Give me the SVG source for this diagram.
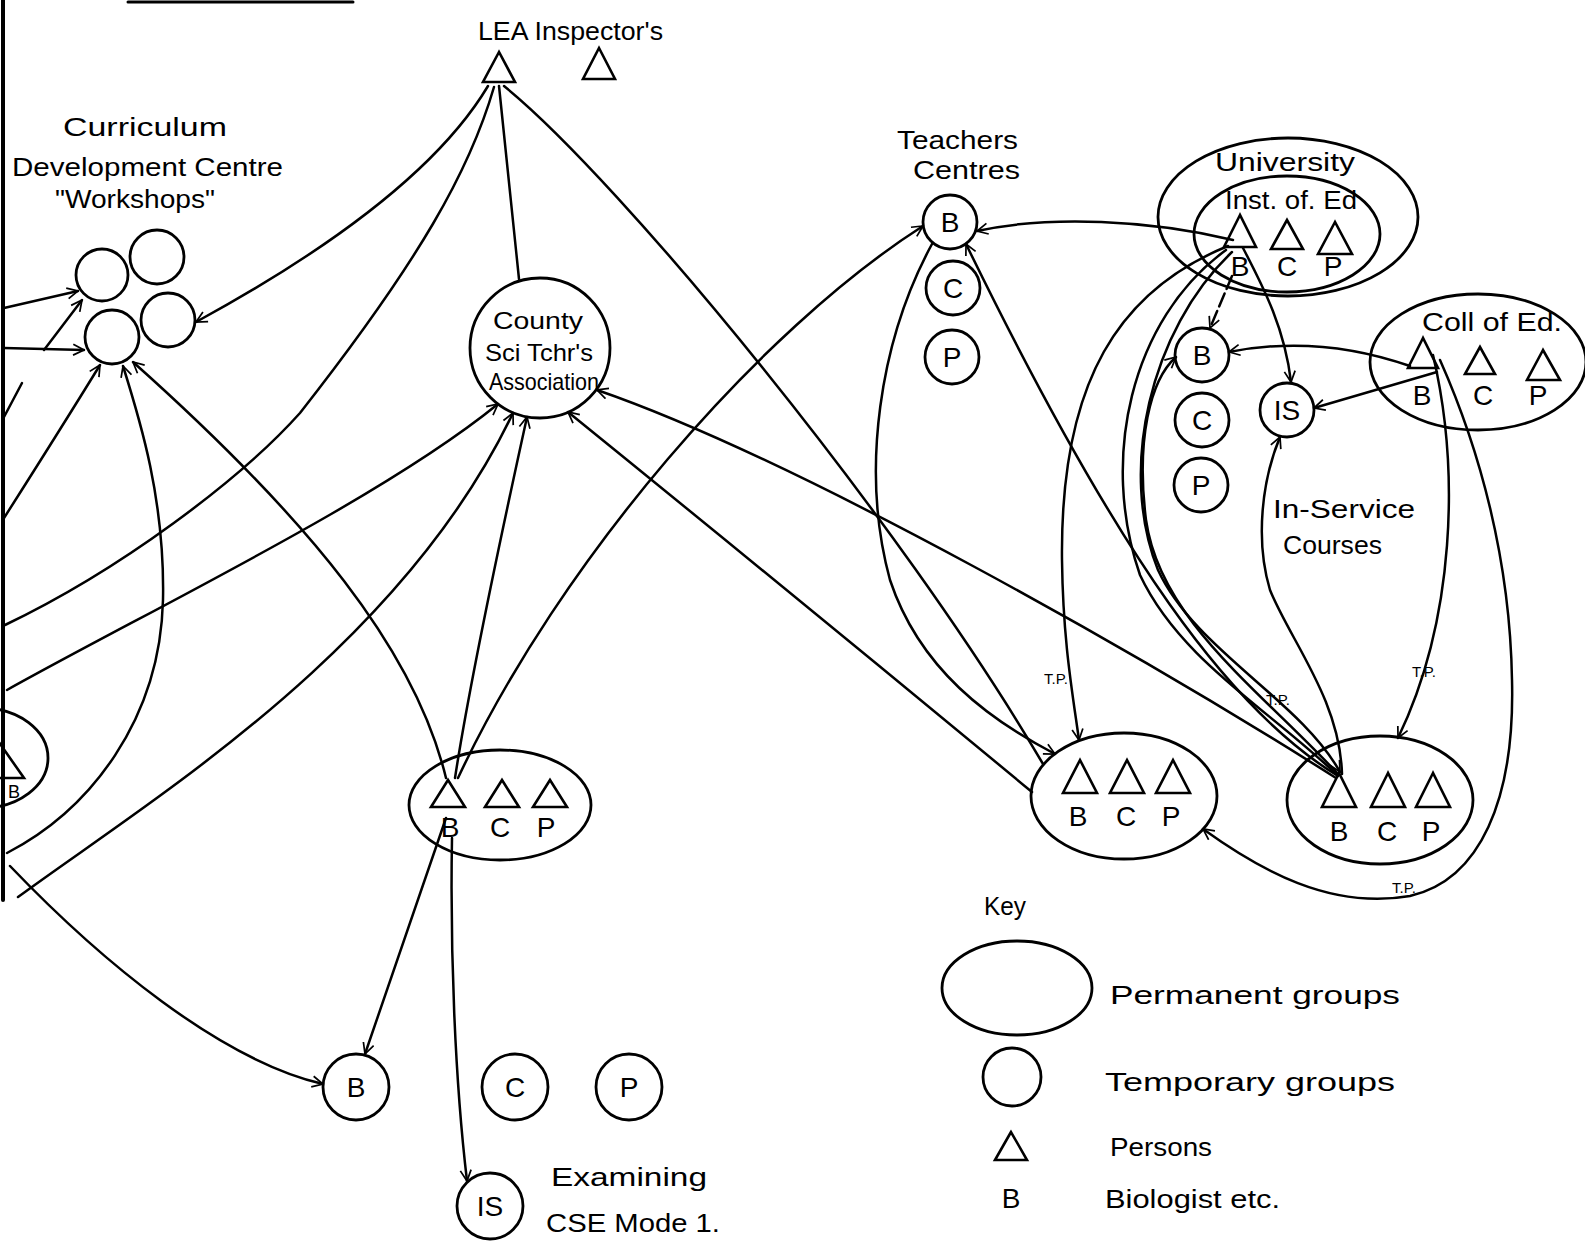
<svg xmlns="http://www.w3.org/2000/svg" width="1585" height="1244" viewBox="0 0 1585 1244">
<defs>
<marker id="ah" viewBox="0 0 12 12" refX="11" refY="6" markerWidth="13" markerHeight="13" markerUnits="userSpaceOnUse" orient="auto"><path d="M1,1 L11,6 L1,11" fill="none" stroke="#000" stroke-width="1.6"/></marker>
</defs>
<style>
.ln{fill:none;stroke:#000;stroke-width:2.5;stroke-linecap:round}
.ar{marker-end:url(#ah)}
.sh{fill:none;stroke:#000;stroke-width:2.8}
.tr{fill:none;stroke:#000;stroke-width:2.6;stroke-linejoin:miter}
.t{font-family:"Liberation Sans",Arial,sans-serif;fill:#000}
.lbl{font-size:26px}
.let{font-size:28px;text-anchor:middle}
.tp{font-size:15px}
.dash{stroke-dasharray:14 5}
</style>
<rect width="1585" height="1244" fill="#fff"/>
<g id="frame">
<path class="ln" style="stroke-width:4" d="M3,0 L3,900"/>
<path class="ln" style="stroke-width:3" d="M128,2 L353,2"/>
</g>

<g id="lea-inspectors">
<text class="t lbl" x="478" y="40" textLength="185" lengthAdjust="spacingAndGlyphs">LEA Inspector's</text>
<polygon class="tr" points="499,52 483,82 515,82"/>
<polygon class="tr" points="599,48 583,79 615,79"/>
</g>

<g id="curriculum-centre">
<text class="t lbl" x="63" y="136" textLength="164" lengthAdjust="spacingAndGlyphs">Curriculum</text>
<text class="t lbl" x="12" y="176" textLength="271" lengthAdjust="spacingAndGlyphs">Development Centre</text>
<text class="t lbl" x="55" y="208" textLength="160" lengthAdjust="spacingAndGlyphs">"Workshops"</text>
<circle class="sh" cx="102" cy="275" r="26"/>
<circle class="sh" cx="157" cy="257" r="27"/>
<circle class="sh" cx="168" cy="320" r="27"/>
<circle class="sh" cx="112" cy="337" r="27"/>
</g>

<g id="county-association">
<circle class="sh" cx="540" cy="348" r="70"/>
<text class="t" style="font-size:24px" x="493" y="329" textLength="90" lengthAdjust="spacingAndGlyphs">County</text>
<text class="t" style="font-size:24px" x="485" y="361" textLength="108" lengthAdjust="spacingAndGlyphs">Sci Tchr's</text>
<text class="t" style="font-size:24px" x="489" y="390" textLength="110" lengthAdjust="spacingAndGlyphs">Association</text>
</g>

<g id="left-edge-group">
<ellipse class="sh" cx="-18" cy="758" rx="66" ry="50"/>
<polygon class="tr" points="-2,741 24,778 -28,778"/>
<text class="t" style="font-size:18px" x="8" y="798">B</text>
</g>

<g id="county-teachers">
<ellipse class="sh" cx="500" cy="805" rx="91" ry="55"/>
<polygon class="tr" points="448,780 431,807 465,807"/>
<polygon class="tr" points="502,780 485,807 519,807"/>
<polygon class="tr" points="550,780 533,807 567,807"/>
<text class="t let" x="450" y="837">B</text>
<text class="t let" x="500" y="837">C</text>
<text class="t let" x="546" y="837">P</text>
</g>

<g id="school-temp-groups">
<circle class="sh" cx="356" cy="1087" r="33"/>
<text class="t let" x="356" y="1097">B</text>
<circle class="sh" cx="515" cy="1087" r="33"/>
<text class="t let" x="515" y="1097">C</text>
<circle class="sh" cx="629" cy="1087" r="33"/>
<text class="t let" x="629" y="1097">P</text>
</g>

<g id="examining-is">
<circle class="sh" cx="490" cy="1206" r="33"/>
<text class="t let" x="490" y="1216">IS</text>
<text class="t lbl" x="551" y="1186" textLength="156" lengthAdjust="spacingAndGlyphs">Examining</text>
<text class="t lbl" x="546" y="1232" textLength="174" lengthAdjust="spacingAndGlyphs">CSE Mode 1.</text>
</g>

<g id="teachers-centres">
<text class="t lbl" x="897" y="149" textLength="121" lengthAdjust="spacingAndGlyphs">Teachers</text>
<text class="t lbl" x="913" y="179" textLength="107" lengthAdjust="spacingAndGlyphs">Centres</text>
<circle class="sh" cx="950" cy="222" r="27"/>
<text class="t let" x="950" y="232">B</text>
<circle class="sh" cx="953" cy="288" r="27"/>
<text class="t let" x="953" y="298">C</text>
<circle class="sh" cx="952" cy="357" r="27"/>
<text class="t let" x="952" y="367">P</text>
</g>

<g id="university">
<ellipse class="sh" cx="1288" cy="217" rx="130" ry="79"/>
<ellipse class="sh" cx="1287" cy="234" rx="93" ry="58"/>
<text class="t lbl" x="1215" y="171" textLength="140" lengthAdjust="spacingAndGlyphs">University</text>
<text class="t lbl" x="1225" y="209" textLength="132" lengthAdjust="spacingAndGlyphs">Inst. of. Ed</text>
<polygon class="tr" points="1240,215 1224,247 1256,247"/>
<polygon class="tr" points="1287,220 1271,249 1303,249"/>
<polygon class="tr" points="1335,222 1318,254 1352,254"/>
<text class="t let" x="1240" y="276">B</text>
<text class="t let" x="1287" y="276">C</text>
<text class="t let" x="1333" y="276">P</text>
</g>

<g id="inset-courses">
<circle class="sh" cx="1202" cy="355" r="27"/>
<text class="t let" x="1202" y="365">B</text>
<circle class="sh" cx="1202" cy="420" r="27"/>
<text class="t let" x="1202" y="430">C</text>
<circle class="sh" cx="1201" cy="485" r="27"/>
<text class="t let" x="1201" y="495">P</text>
<circle class="sh" cx="1287" cy="410" r="27"/>
<text class="t let" x="1287" y="420">IS</text>
<text class="t lbl" x="1273" y="518" textLength="142" lengthAdjust="spacingAndGlyphs">In-Service</text>
<text class="t lbl" x="1283" y="554" textLength="99" lengthAdjust="spacingAndGlyphs">Courses</text>
</g>

<g id="coll-of-ed">
<ellipse class="sh" cx="1478" cy="362" rx="108" ry="68"/>
<text class="t lbl" x="1422" y="331" textLength="140" lengthAdjust="spacingAndGlyphs">Coll of Ed.</text>
<polygon class="tr" points="1423,338 1408,368 1438,368"/>
<polygon class="tr" points="1480,347 1465,374 1495,374"/>
<polygon class="tr" points="1543,350 1527,380 1560,380"/>
<text class="t let" x="1422" y="405">B</text>
<text class="t let" x="1483" y="405">C</text>
<text class="t let" x="1538" y="405">P</text>
</g>

<g id="school-a">
<ellipse class="sh" cx="1124" cy="796" rx="93" ry="63"/>
<polygon class="tr" points="1080,760 1063,793 1097,793"/>
<polygon class="tr" points="1127,760 1110,793 1144,793"/>
<polygon class="tr" points="1173,760 1156,793 1190,793"/>
<text class="t let" x="1078" y="826">B</text>
<text class="t let" x="1126" y="826">C</text>
<text class="t let" x="1171" y="826">P</text>
</g>

<g id="school-b">
<ellipse class="sh" cx="1380" cy="800" rx="93" ry="64"/>
<polygon class="tr" points="1339,773 1322,807 1356,807"/>
<polygon class="tr" points="1388,773 1371,807 1405,807"/>
<polygon class="tr" points="1433,773 1416,807 1450,807"/>
<text class="t let" x="1339" y="841">B</text>
<text class="t let" x="1387" y="841">C</text>
<text class="t let" x="1431" y="841">P</text>
</g>

<g id="key">
<text class="t lbl" x="984" y="915" textLength="42" lengthAdjust="spacingAndGlyphs">Key</text>
<ellipse class="sh" cx="1017" cy="988" rx="75" ry="47"/>
<circle class="sh" cx="1012" cy="1077" r="29"/>
<polygon class="tr" points="1011,1132 995,1160 1027,1160"/>
<text class="t let" x="1011" y="1208">B</text>
<text class="t lbl" x="1110" y="1004" textLength="290" lengthAdjust="spacingAndGlyphs">Permanent groups</text>
<text class="t lbl" x="1105" y="1091" textLength="290" lengthAdjust="spacingAndGlyphs">Temporary groups</text>
<text class="t lbl" x="1110" y="1156" textLength="102" lengthAdjust="spacingAndGlyphs">Persons</text>
<text class="t lbl" x="1105" y="1208" textLength="175" lengthAdjust="spacingAndGlyphs">Biologist etc.</text>
</g>

<g id="connectors">
<path class="ln ar" d="M4,308 L78,291"/>
<path class="ln ar" d="M4,348 L84,350"/>
<path class="ln ar" d="M44,350 L82,300"/>
<path class="ln" d="M4,417 L22,383"/>
<path class="ln ar" d="M4,518 Q60,430 100,365"/>
<path class="ln ar" d="M7,853 C90,810 160,720 163,600 C165,500 140,420 123,366"/>
<path class="ln ar" d="M446,778 C415,650 310,520 133,362"/>
<path class="ln ar" d="M488,86 Q420,200 196,322"/>
<path class="ln" d="M494,87 C470,170 420,260 300,413 C240,480 120,570 5,625"/>
<path class="ln" d="M499,86 L519,279"/>
<path class="ln" d="M504,86 C620,180 900,520 1043,764"/>
<path class="ln ar" d="M7,690 C150,610 380,500 498,404"/>
<path class="ln ar" d="M18,897 C150,800 400,650 513,413"/>
<path class="ln ar" d="M455,778 C470,680 500,540 527,417"/>
<path class="ln ar" d="M1032,792 Q800,600 568,412"/>
<path class="ln ar" d="M1336,778 C1150,660 800,460 597,390"/>
<path class="ln ar" d="M458,778 C560,560 760,330 923,226"/>
<path class="ln ar" d="M1233,240 C1150,220 1050,215 977,231"/>
<path class="ln ar" d="M932,244 C880,340 860,470 890,580 C920,670 990,720 1055,754"/>
<path class="ln ar" d="M1338,776 C1230,710 1120,560 966,244"/>
<path class="ln ar" d="M1228,246 C1120,290 1060,380 1062,560 C1063,640 1072,690 1079,740"/>
<path class="ln" d="M1226,250 C1130,320 1100,460 1140,575 C1180,660 1270,710 1336,774"/>
<path class="ln ar" d="M1232,252 C1150,330 1118,470 1158,570 C1195,650 1300,700 1340,772"/>
<path class="ln ar" d="M1338,774 C1260,690 1160,620 1146,520 C1136,440 1150,380 1176,357"/>
<path class="ln ar dash" d="M1232,276 L1210,328"/>
<path class="ln ar" d="M1243,248 C1265,290 1285,330 1291,382"/>
<path class="ln ar" d="M1410,366 C1350,345 1290,340 1229,352"/>
<path class="ln ar" d="M1437,372 L1314,408"/>
<path class="ln ar" d="M1342,774 C1340,700 1290,640 1270,590 C1255,540 1262,480 1280,437"/>
<path class="ln ar" d="M1433,355 C1460,470 1455,620 1398,738"/>
<path class="ln ar" d="M1440,360 C1480,450 1510,560 1512,680 C1515,800 1480,880 1410,896 C1330,910 1260,870 1203,829"/>
<path class="ln ar" d="M446,818 L365,1054"/>
<path class="ln ar" d="M452,838 C450,950 455,1080 467,1181"/>
<path class="ln ar" d="M10,866 C100,960 220,1060 323,1084"/>
<text class="t tp" x="1044" y="684">T.P.</text>
<text class="t tp" x="1266" y="705">T.P.</text>
<text class="t tp" x="1412" y="677">T.P.</text>
<text class="t tp" x="1392" y="893">T.P.</text>
</g>
</svg>
